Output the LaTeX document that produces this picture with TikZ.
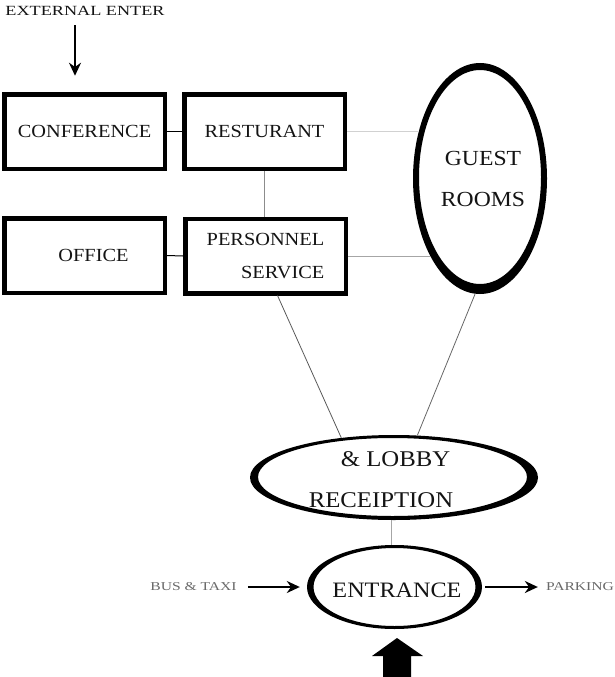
\documentclass[tikz,border=0pt]{standalone}
\usepackage{fontspec}
\setmainfont{Liberation Serif}[FakeStretch=1.1]
\newfontfamily\smallf{Liberation Serif}[FakeStretch=1.3]
\usetikzlibrary{arrows.meta,shapes.geometric}
\definecolor{txtgray}{RGB}{105,105,105}
\definecolor{ink}{RGB}{20,20,20}
\begin{document}
\begin{tikzpicture}[x=1pt,y=-1pt,
  box/.style={draw=black, line width=4.5pt, minimum width=160.5pt, minimum height=74.5pt,
    inner sep=0pt, font=\fontsize{18.5}{33}\selectfont, text=ink},
  oval/.style={ellipse, draw=none, inner sep=0pt},
  lbl/.style={font=\fontsize{22}{41}\selectfont, align=center, inner sep=0pt, text=ink},
  side/.style={font=\smallf\fontsize{12}{14}\selectfont, text=txtgray, inner sep=0pt},
  link/.style={line width=0.8pt},
  arr/.style={line width=2pt, -{Stealth[length=13pt,width=12pt]}}]
\useasboundingbox (0,0) rectangle (615,677);

% boxes
\node[box] (conf) at (84.5,131.5) {CONFERENCE};
\node[box] (rest) at (264.5,131.5) {RESTURANT};
\node[box] (off) at (84.5,255.5) {\hspace*{18pt}OFFICE};
\node[box, align=right] (pers) at (265.5,256) {PERSONNEL\\SERVICE};

% ovals (named nodes, strokes drawn as rings)
\node[oval, minimum width=134pt, minimum height=231pt,
  label={[lbl, font=\fontsize{21.5}{41}\selectfont, xshift=3pt, yshift=-0.5pt]center:GUEST\\ROOMS}] (guest) at (480,178.5) {};
\node[oval, minimum width=288pt, minimum height=85pt,
  label={[lbl, font=\fontsize{22.5}{41}\selectfont, xshift=-13pt, yshift=-2pt]center:\hspace*{29pt}\& LOBBY\\RECEIPTION}] (lobby) at (394,477.5) {};
\node[oval, minimum width=175pt, minimum height=84pt,
  label={[lbl, xshift=2.5pt, yshift=-3.5pt]center:ENTRANCE}] (ent) at (394.5,587) {};

\fill[black, even odd rule] (guest.center) ellipse [x radius=67pt, y radius=115.5pt]
  ([yshift=1.5pt]guest.center) ellipse [x radius=61pt, y radius=107pt];
\fill[black, even odd rule] (lobby.center) ellipse [x radius=144pt, y radius=42.5pt]
  ([xshift=-1.5pt,yshift=0.5pt]lobby.center) ellipse [x radius=134.5pt, y radius=39pt];
\fill[black, even odd rule] (ent.center) ellipse [x radius=87.5pt, y radius=42pt]
  (ent.center) ellipse [x radius=81pt, y radius=39pt];

% side labels
\node[side, text=ink, font=\smallf\fontsize{14}{16}\selectfont] (ext) at (85,11) {EXTERNAL ENTER};
\node[side] (bus) at (193.5,587) {BUS \& TAXI};
\node[side] (park) at (580,587) {PARKING};
\coordinate (bigtip) at (397,638);

% connectors
\draw[link, black, line width=1pt] (conf.east) -- (rest.west);
\draw[link, black, line width=1pt] (off.east) -- (pers.west);
\draw[link, black!45] (rest.south) -- (rest.south |- pers.north);
\draw[link, black!18] (rest.east) -- (rest.east -| guest.142.5);
\draw[link, black!35] (pers.east) -- (pers.east -| guest.237);
\draw[link, black!65] ([xshift=12pt]pers.south) -- (lobby.143);
\draw[link, black!60] ([xshift=-5pt]guest.south) -- (lobby.61);
\draw[link, black!35] ([xshift=-3pt]lobby.south) -- ([xshift=-3.5pt]ent.north);

% arrows
\draw[arr] ([xshift=-10pt,yshift=-9.5pt]ext.south) -- ([xshift=-9.5pt,yshift=16.25pt]conf.north);
\draw[arr] ([xshift=11pt]bus.east) -- ([xshift=-7pt]ent.west);
\draw[arr] ([xshift=3pt]ent.east) -- ([xshift=-8pt]park.west);
\fill[black] (bigtip) -- ++(26,18) -- ++(-12,0) -- ++(0,21) -- ++(-28,0) -- ++(0,-21) -- ++(-11,0) -- cycle;
\end{tikzpicture}
\end{document}
